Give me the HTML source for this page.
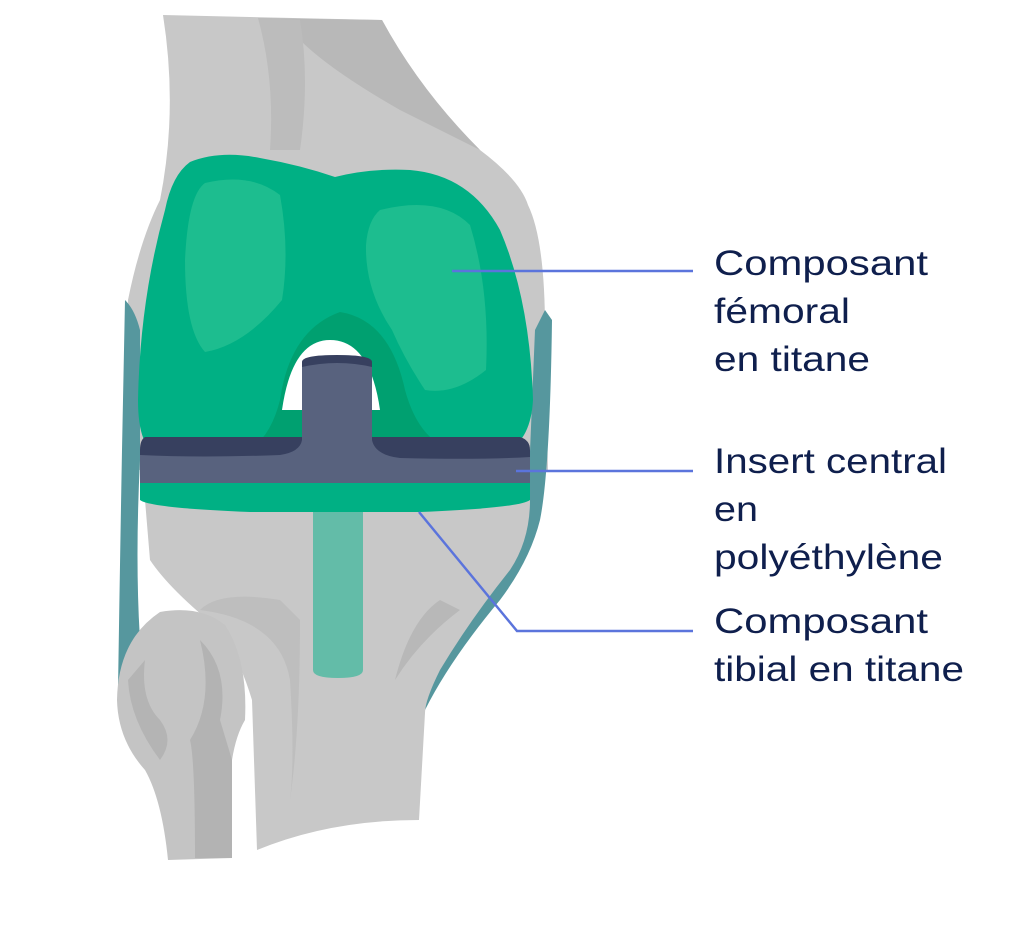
<!DOCTYPE html>
<html><head><meta charset="utf-8"><style>
html,body{margin:0;padding:0;background:#fff;}
svg{display:block}
text{font-family:"Liberation Sans",sans-serif;font-size:35px;fill:#0f1f4d;}
</style></head><body>
<svg width="1024" height="936" viewBox="0 0 1024 936" xmlns="http://www.w3.org/2000/svg">
<!-- femur bone -->
<path d="M163,15 L382,20 Q420,90 480,150 Q520,180 528,205 Q545,240 545,330 L548,470 L132,470 L128,300 Q140,240 160,200 Q178,110 163,15Z" fill="#c8c8c8"/>
<path d="M258,18 L382,20 Q420,90 480,150 Q440,130 400,110 Q330,70 300,40Z" fill="#b8b8b8"/>
<path d="M258,18 Q275,80 270,150 L300,150 Q310,80 300,20Z" fill="#bcbcbc"/>
<!-- ligaments -->
<path d="M125,300 Q135,310 140,330 L140,460 Q135,560 140,640 Q150,650 155,660 L125,700 L118,690 Q120,560 122,450Z" fill="#56979e"/>
<path d="M545,310 L552,320 Q550,470 540,520 Q530,560 500,600 Q450,660 425,710 L420,700 Q440,640 480,600 Q520,560 528,500 L535,330Z" fill="#56979e"/>
<!-- tibia -->
<path d="M145,500 L530,500 Q530,540 510,570 Q470,620 440,670 Q425,700 425,713 L419,820 Q330,820 257,850 L252,700 Q240,660 220,630 Q170,590 150,560Z" fill="#c8c8c8"/>
<path d="M300,620 Q330,650 280,600 Q220,590 200,610 Q280,620 290,680 Q295,760 290,800 Q300,730 300,620Z" fill="#b8b8b8" opacity="0.6"/>
<path d="M440,600 Q410,620 395,680 Q420,640 460,610Z" fill="#b8b8b8"/>
<!-- fibula -->
<path d="M160,612 Q200,605 225,625 Q248,660 245,720 Q236,735 232,760 L232,858 L168,860 Q162,800 145,770 Q118,740 117,700 Q118,640 160,612Z" fill="#c4c4c4"/>
<path d="M200,640 Q230,670 220,720 L232,760 L232,858 L195,858 Q195,760 190,740 Q215,700 200,640Z" fill="#b3b3b3"/>
<path d="M128,680 Q130,720 160,760 Q175,740 160,720 Q140,700 145,660Z" fill="#aaaaaa" opacity="0.6"/>
<!-- femoral component -->
<path d="M190,162 Q220,150 260,158 Q300,165 335,177 Q370,168 410,170 Q470,175 500,230 Q530,300 533,400 Q530,452 490,455 L160,455 Q138,450 138,400 Q140,300 165,210 Q172,175 190,162Z" fill="#00b084"/>
<!-- darker arch band -->
<path d="M245,452 Q270,440 280,400 Q290,330 340,312 Q390,320 405,390 Q420,445 460,452Z" fill="#00a070"/>
<!-- white notch -->
<path d="M282,410 Q292,340 330,340 Q370,340 380,410Z" fill="#ffffff"/>
<path d="M205,183 Q250,172 280,195 Q290,250 282,300 Q245,345 205,352 Q185,330 185,260 Q188,195 205,183Z" fill="#1dbd8f"/>
<path d="M380,210 Q440,195 470,225 Q490,290 486,370 Q455,395 425,390 Q405,360 392,330 Q365,290 366,245 Q368,220 380,210Z" fill="#1dbd8f"/>
<!-- insert -->
<path d="M145,437 Q140,440 140,450 L140,485 L530,485 L530,450 Q530,440 520,437 L372,437 L372,362 Q372,355 337,355 Q302,355 302,362 L302,437Z" fill="#37405f"/>
<path d="M140,455 Q200,458 280,455 Q300,452 302,440 L302,367 Q320,363 337,363 Q355,363 372,367 L372,440 Q375,455 400,458 Q480,460 530,457 L530,483 L140,483Z" fill="#58627e"/>
<!-- tibial tray -->
<path d="M140,483 L530,483 L530,500 Q520,508 420,512 L250,512 Q150,508 140,500Z" fill="#00b084"/>
<path d="M313,512 L363,512 L363,670 Q363,678 338,678 Q313,678 313,670Z" fill="#63bca8"/>
<!-- leader lines -->
<g stroke="#5b74dc" stroke-width="2.5" fill="none">
<path d="M452,271 L693,271"/>
<path d="M516,471 L693,471"/>
<path d="M419,512 L517,631 L693,631"/>
</g>
<!-- labels -->
<text x="714" y="275" textLength="214" lengthAdjust="spacingAndGlyphs">Composant</text>
<text x="714" y="323" textLength="136" lengthAdjust="spacingAndGlyphs">fémoral</text>
<text x="714" y="371" textLength="156" lengthAdjust="spacingAndGlyphs">en titane</text>
<text x="714" y="473" textLength="233" lengthAdjust="spacingAndGlyphs">Insert central</text>
<text x="714" y="521" textLength="44" lengthAdjust="spacingAndGlyphs">en</text>
<text x="714" y="569" textLength="229" lengthAdjust="spacingAndGlyphs">polyéthylène</text>
<text x="714" y="633" textLength="214" lengthAdjust="spacingAndGlyphs">Composant</text>
<text x="714" y="681" textLength="250" lengthAdjust="spacingAndGlyphs">tibial en titane</text>
</svg>
</body></html>
